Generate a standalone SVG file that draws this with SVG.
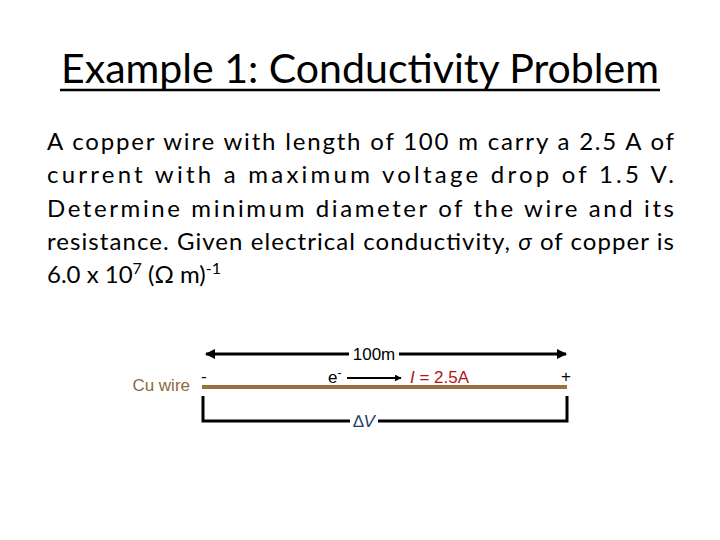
<svg xmlns="http://www.w3.org/2000/svg" width="720" height="540" viewBox="0 0 720 540">
<style>
.t{font-family:Lato,"Liberation Sans",sans-serif}
.b{font-family:Lato,"Liberation Sans",sans-serif;font-size:24px;fill:#000}
.d{font-family:"Liberation Sans",Arial,sans-serif;font-size:17px}
.ln{stroke:#000;stroke-width:3;fill:none}
</style>
<defs>
<marker id="ah" viewBox="0 0 10 10" refX="9" refY="5" markerWidth="3.5" markerHeight="3.5" orient="auto-start-reverse"><path d="M0,0L10,5L0,10z" fill="#000"/></marker>
</defs>
<rect width="720" height="540" fill="#fff"/>
<g id="title">
<text class="t" x="360" y="83" font-size="40" text-anchor="middle" textLength="598" lengthAdjust="spacingAndGlyphs">Example 1:  Conductivity Problem</text>
<line x1="60" y1="90" x2="660" y2="90" stroke="#000" stroke-width="2.5"/>
</g>
<g id="body">
<text class="b" x="47" y="150" textLength="627" lengthAdjust="spacing">A copper wire with length of 100 m carry a 2.5 A of</text>
<text class="b" x="47" y="183" textLength="627" lengthAdjust="spacing">current with a maximum voltage drop of 1.5 V.</text>
<text class="b" x="47" y="217" textLength="627" lengthAdjust="spacing">Determine minimum diameter of the wire and its</text>
<text class="b" x="47" y="250" textLength="627" lengthAdjust="spacing">resistance. Given electrical conductivity, <tspan font-style="italic">σ</tspan> of copper is</text>
<text class="b" x="47" y="283">6.0 x 10<tspan font-size="16" dy="-9">7</tspan><tspan dy="9"> (Ω m)</tspan><tspan font-size="16" dy="-9">-1</tspan></text>
</g>
<g id="wire">
<line x1="202" y1="387" x2="567" y2="387" stroke="#9b7040" stroke-width="4"/>
<text class="d" x="190" y="391" text-anchor="end" fill="#8b6a40">Cu wire</text>
<text class="d" x="201" y="382" fill="#000">-</text>
<text class="d" x="566" y="382" text-anchor="middle" fill="#000">+</text>
</g>
<g id="connectors">
<line class="ln" x1="206" y1="354" x2="349" y2="354" marker-start="url(#ah)"/>
<line class="ln" x1="399" y1="354" x2="566" y2="354" marker-end="url(#ah)"/>
<line x1="347" y1="378" x2="401" y2="378" stroke="#000" stroke-width="2" marker-end="url(#ah)"/>
<polyline class="ln" points="203,396 203,421 350,421"/>
<polyline class="ln" points="378,421 567,421 567,396"/>
</g>
<g id="labels">
<text class="d" x="374" y="360" text-anchor="middle" fill="#000">100m</text>
<text class="d" x="328" y="383" fill="#000">e<tspan font-size="12" dy="-6">-</tspan></text>
<text class="d" x="410" y="383" fill="#b0141c"><tspan font-style="italic">I</tspan> = 2.5A</text>
<text class="d" x="364" y="427" text-anchor="middle" fill="#1f3a6e">∆<tspan font-style="italic">V</tspan></text>
</g>
</svg>
